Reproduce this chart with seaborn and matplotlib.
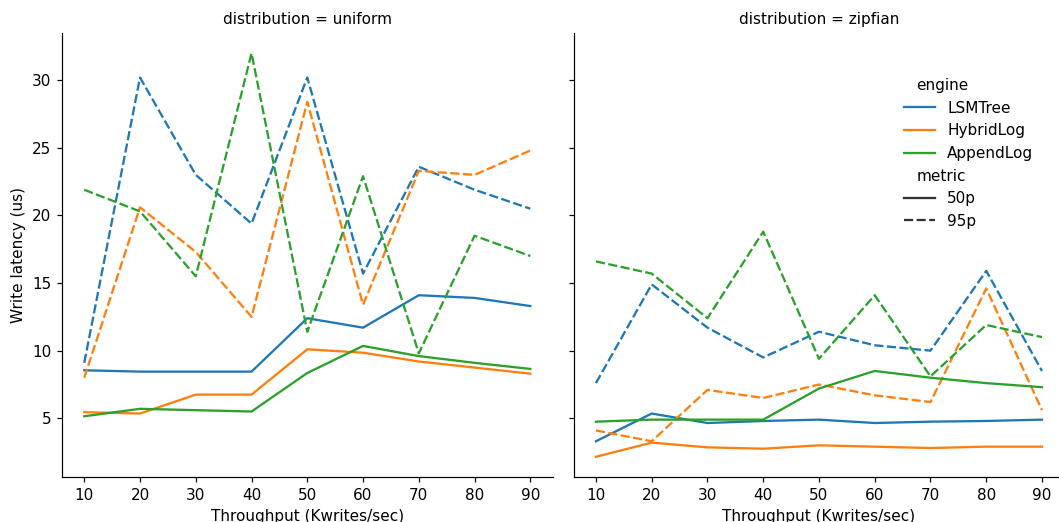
import numpy as np
import pandas as pd
import seaborn as sns
import matplotlib
matplotlib.use("Agg")
import matplotlib.pyplot as plt

throughput = [10, 20, 30, 40, 50, 60, 70, 80, 90]
engines = ["LSMTree", "HybridLog", "AppendLog"]
metrics = ["50p", "95p"]
distributions = ["uniform", "zipfian"]

uniform_lsm_50 = [8.55, 8.45, 8.45, 8.45, 12.4, 11.7, 14.1, 13.9, 13.3]
uniform_hyb_50 = [5.45, 5.35, 6.75, 6.75, 10.1, 9.85, 9.2, 8.75, 8.3]
uniform_app_50 = [5.15, 5.7, 5.6, 5.5, 8.35, 10.35, 9.6, 9.1, 8.65]
uniform_lsm_95 = [9.1, 30.2, 23.0, 19.4, 30.2, 15.7, 23.6, 21.9, 20.5]
uniform_hyb_95 = [8.0, 20.6, 17.3, 12.5, 28.4, 13.4, 23.3, 23.0, 24.8]
uniform_app_95 = [21.9, 20.3, 15.5, 32.0, 11.4, 22.9, 9.8, 18.5, 17.0]

zipf_lsm_50 = [3.3, 5.35, 4.65, 4.8, 4.9, 4.65, 4.75, 4.8, 4.9]
zipf_hyb_50 = [2.15, 3.2, 2.85, 2.75, 3.0, 2.9, 2.8, 2.9, 2.9]
zipf_app_50 = [4.75, 4.9, 4.9, 4.9, 7.2, 8.5, 8.0, 7.6, 7.3]
zipf_lsm_95 = [7.6, 14.9, 11.7, 9.5, 11.4, 10.4, 10.0, 15.9, 8.5]
zipf_hyb_95 = [4.1, 3.3, 7.1, 6.5, 7.5, 6.7, 6.2, 14.6, 5.6]
zipf_app_95 = [16.6, 15.7, 12.4, 18.8, 9.4, 14.1, 8.1, 11.9, 11.0]

series = {
    ("uniform", "LSMTree", "50p"): uniform_lsm_50,
    ("uniform", "HybridLog", "50p"): uniform_hyb_50,
    ("uniform", "AppendLog", "50p"): uniform_app_50,
    ("uniform", "LSMTree", "95p"): uniform_lsm_95,
    ("uniform", "HybridLog", "95p"): uniform_hyb_95,
    ("uniform", "AppendLog", "95p"): uniform_app_95,
    ("zipfian", "LSMTree", "50p"): zipf_lsm_50,
    ("zipfian", "HybridLog", "50p"): zipf_hyb_50,
    ("zipfian", "AppendLog", "50p"): zipf_app_50,
    ("zipfian", "LSMTree", "95p"): zipf_lsm_95,
    ("zipfian", "HybridLog", "95p"): zipf_hyb_95,
    ("zipfian", "AppendLog", "95p"): zipf_app_95,
}

rows = []
for (d, e, m), vals in series.items():
    for t, v in zip(throughput, vals):
        rows.append({"distribution": d, "engine": e, "metric": m,
                     "Throughput (Kwrites/sec)": t, "Write latency (us)": v})
df = pd.DataFrame(rows)

DPI = 110
g = sns.relplot(data=df, x="Throughput (Kwrites/sec)", y="Write latency (us)",
                col="distribution", hue="engine", style="metric",
                hue_order=engines, style_order=metrics, col_order=distributions,
                kind="line", height=5, aspect=1)
g.figure.set_size_inches(1059 / DPI, 522 / DPI)
g.figure.subplots_adjust(left=0.0585, right=1.005, top=0.9368, bottom=0.0862, wspace=0.0428)
for ax in g.axes.flat:
    ax.set_xticks(throughput)
leg = g._legend
leg._loc = 2  # upper left
leg.set_bbox_to_anchor((0.841, 0.877), transform=g.figure.transFigure)

# Make subtitle entries ("engine", "metric") look like titles: zero-width handle area
subtitles = {"engine", "metric"}
for col in leg._legend_handle_box.get_children():
    for hpack in col.get_children():
        kids = hpack.get_children()
        if len(kids) != 2:
            continue
        da, ta = kids
        txts = [t.get_text() for t in ta.get_children() if hasattr(t, "get_text")]
        if any(t in subtitles for t in txts):
            da.set_width(0)

g.figure.savefig("out.png", dpi=DPI)
